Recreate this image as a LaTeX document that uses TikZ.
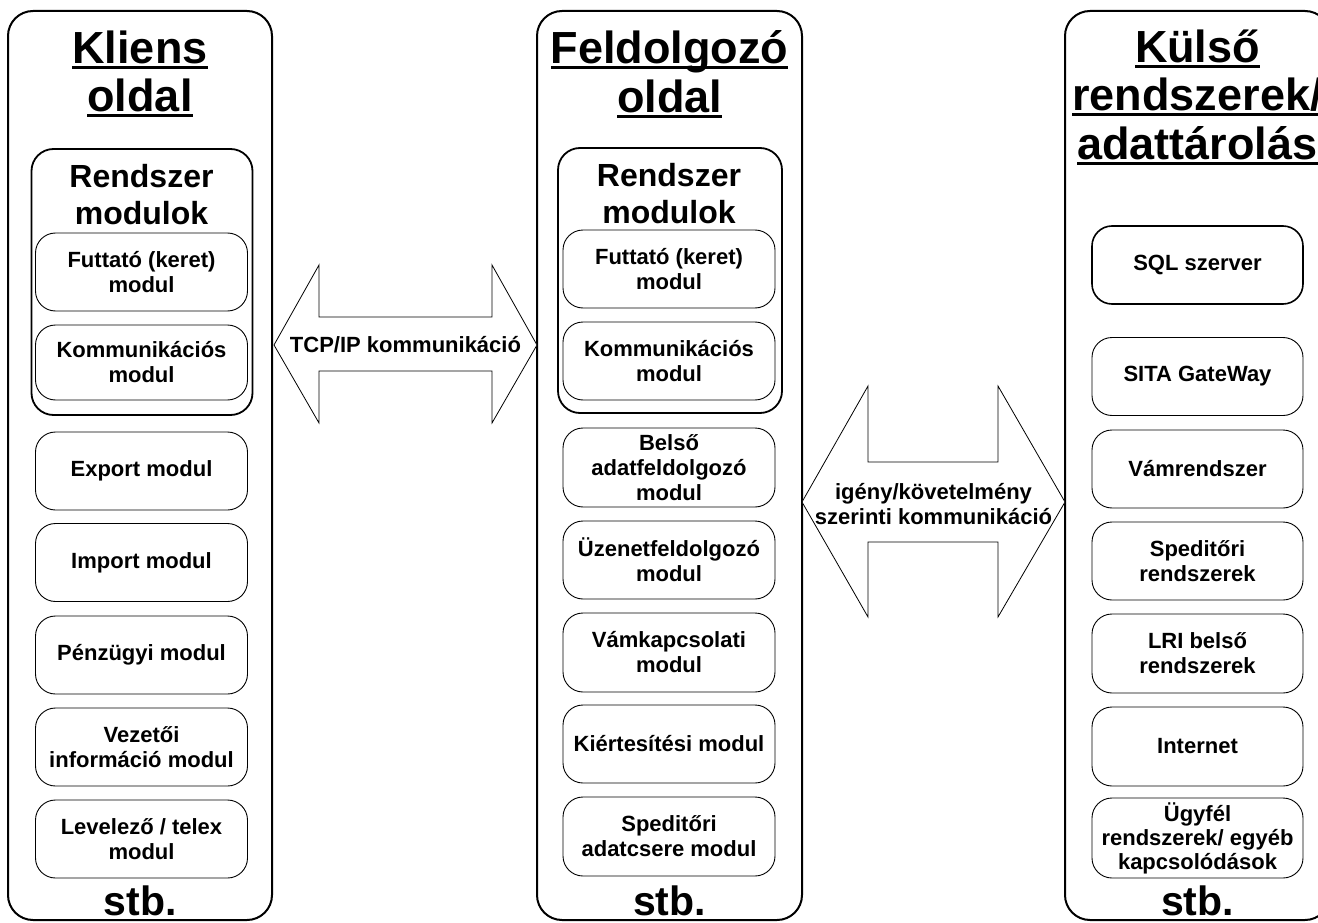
\documentclass[tikz,border=0pt]{standalone}
\usepackage{fontspec}
\setmainfont{Liberation Sans}
\newsavebox\myulbox
\newcommand{\myuline}[1]{\sbox\myulbox{#1}\rlap{\rule[-5.5pt]{\wd\myulbox}{3.2pt}}\usebox\myulbox}
\tikzset{
  col/.style={draw, line width=2pt, rounded corners=25pt, minimum width=264pt, minimum height=909pt, inner sep=0pt},
  grp/.style={draw, line width=1.8pt, rounded corners=22pt, minimum width=221pt, inner sep=0pt},
  modbox/.style={draw, line width=0.9pt, rounded corners=20pt, minimum width=212pt, minimum height=78pt, inner sep=0pt, align=center, font=\bfseries\fontsize{22}{25}\selectfont},
  ttl/.style={anchor=base, inner sep=0pt, font=\bfseries\fontsize{45}{48}\selectfont},
  hdr/.style={anchor=base, inner sep=0pt, font=\bfseries\fontsize{32}{37}\selectfont},
  etc/.style={anchor=base, inner sep=0pt, font=\bfseries\fontsize{41}{45}\selectfont},
  arrshape/.style={draw, line width=0.8pt, fill=white},
  lbl/.style={align=center, inner sep=0pt, font=\bfseries\fontsize{22}{25}\selectfont},
}
\begin{document}
\begin{tikzpicture}[x=1pt, y=-1pt]
\useasboundingbox (0,0) rectangle (1318,923);
\clip (0,0) rectangle (1318,923);
\fill[white] (0,0) rectangle (1318,923);

% columns
\node[col] (L) at (140,465.5) {};
\node[col, minimum width=265pt] (M) at (669.5,465.5) {};
\node[col, minimum width=265pt] (R) at (1197.5,465.5) {};

% titles
\node[ttl] (Lt1) at (140,64) {\myuline{Kliens}};
\node[ttl] (Lt2) at (140,112) {\myuline{oldal}};
\node[ttl] (Mt1) at (669.5,64) {\myuline{Feldolgozó}};
\node[ttl] (Mt2) at (669.5,113) {\myuline{oldal}};
\node[ttl] (Rt1) at (1197.5,63) {\myuline{Külső}};
\node[ttl] (Rt2) at (1197.5,111) {\myuline{rendszerek/}};
\node[ttl] (Rt3) at (1197.5,160) {\myuline{adattárolás}};

% system module groups
\node[grp, minimum height=266pt] (Lg) at (142,282) {};
\node[hdr] (Lh1) at (141.5,187) {Rendszer};
\node[hdr] (Lh2) at (141.5,224) {modulok};
\node[grp, minimum width=224pt, minimum height=265pt] (Mg) at (670,280.5) {};
\node[hdr] (Mh1) at (669,186) {Rendszer};
\node[hdr] (Mh2) at (669,223) {modulok};

% left modules
\node[modbox] (L1) at (141.5,272) {Futtató (keret)\\modul};
\node[modbox, minimum height=75pt] (L2) at (141.5,362.5) {Kommunikációs\\modul};
\node[modbox] (L3) at (141.5,471) {Export modul};
\node[modbox] (L4) at (141.5,562.5) {Import modul};
\node[modbox] (L5) at (141.5,655) {Pénzügyi modul};
\node[modbox] (L6) at (141.5,747) {Vezetői\\információ modul};
\node[modbox] (L7) at (141.5,839) {Levelező / telex\\modul};
\node[etc] (Le) at (140,915) {stb.};

% middle modules
\node[modbox] (M1) at (669,269) {Futtató (keret)\\modul};
\node[modbox] (M2) at (669,361) {Kommunikációs\\modul};
\node[modbox, minimum height=79pt] (M3) at (669,467.5) {Belső\\adatfeldolgozó\\modul};
\node[modbox] (M4) at (669,560) {Üzenetfeldolgozó\\modul};
\node[modbox, minimum height=79pt] (M5) at (669,652.5) {Vámkapcsolati\\modul};
\node[modbox] (M6) at (669,744) {Kiértesítési modul};
\node[modbox, minimum height=79pt] (M7) at (669,836.5) {Speditőri\\adatcsere modul};
\node[etc] (Me) at (669.5,915) {stb.};

% right modules
\node[modbox, minimum width=211pt, line width=1.6pt] (R1) at (1197.5,265) {SQL szerver};
\node[modbox, minimum width=211pt] (R2) at (1197.5,376.5) {SITA GateWay};
\node[modbox, minimum width=211pt] (R3) at (1197.5,469) {Vámrendszer};
\node[modbox, minimum width=211pt] (R4) at (1197.5,561) {Speditőri\\rendszerek};
\node[modbox, minimum width=211pt, minimum height=79pt] (R5) at (1197.5,653.5) {LRI belső\\rendszerek};
\node[modbox, minimum width=211pt, minimum height=79pt] (R6) at (1197.5,746.5) {Internet};
\node[modbox, minimum width=211pt, minimum height=80pt, font=\bfseries\fontsize{22}{24}\selectfont] (R7) at (1197.5,838) {Ügyfél\\rendszerek/ egyéb\\kapcsolódások};
\node[etc] (Re) at (1197.5,915) {stb.};

% double arrows
\draw[arrshape] (274,345) -- (319,265) -- (319,317) -- (492,317) -- (492,265)
  -- (537,345) -- (492,423) -- (492,371) -- (319,371) -- (319,423) -- cycle;
\node[lbl] (A1) at (405.5,345) {TCP/IP kommunikáció};

\draw[arrshape] (802,502) -- (868,386) -- (868,462) -- (998,462) -- (998,386)
  -- (1065,502) -- (998,617) -- (998,542) -- (868,542) -- (868,617) -- cycle;
\node[lbl] (A2) at (933.5,504) {igény/követelmény\\szerinti kommunikáció};
\end{tikzpicture}
\end{document}
